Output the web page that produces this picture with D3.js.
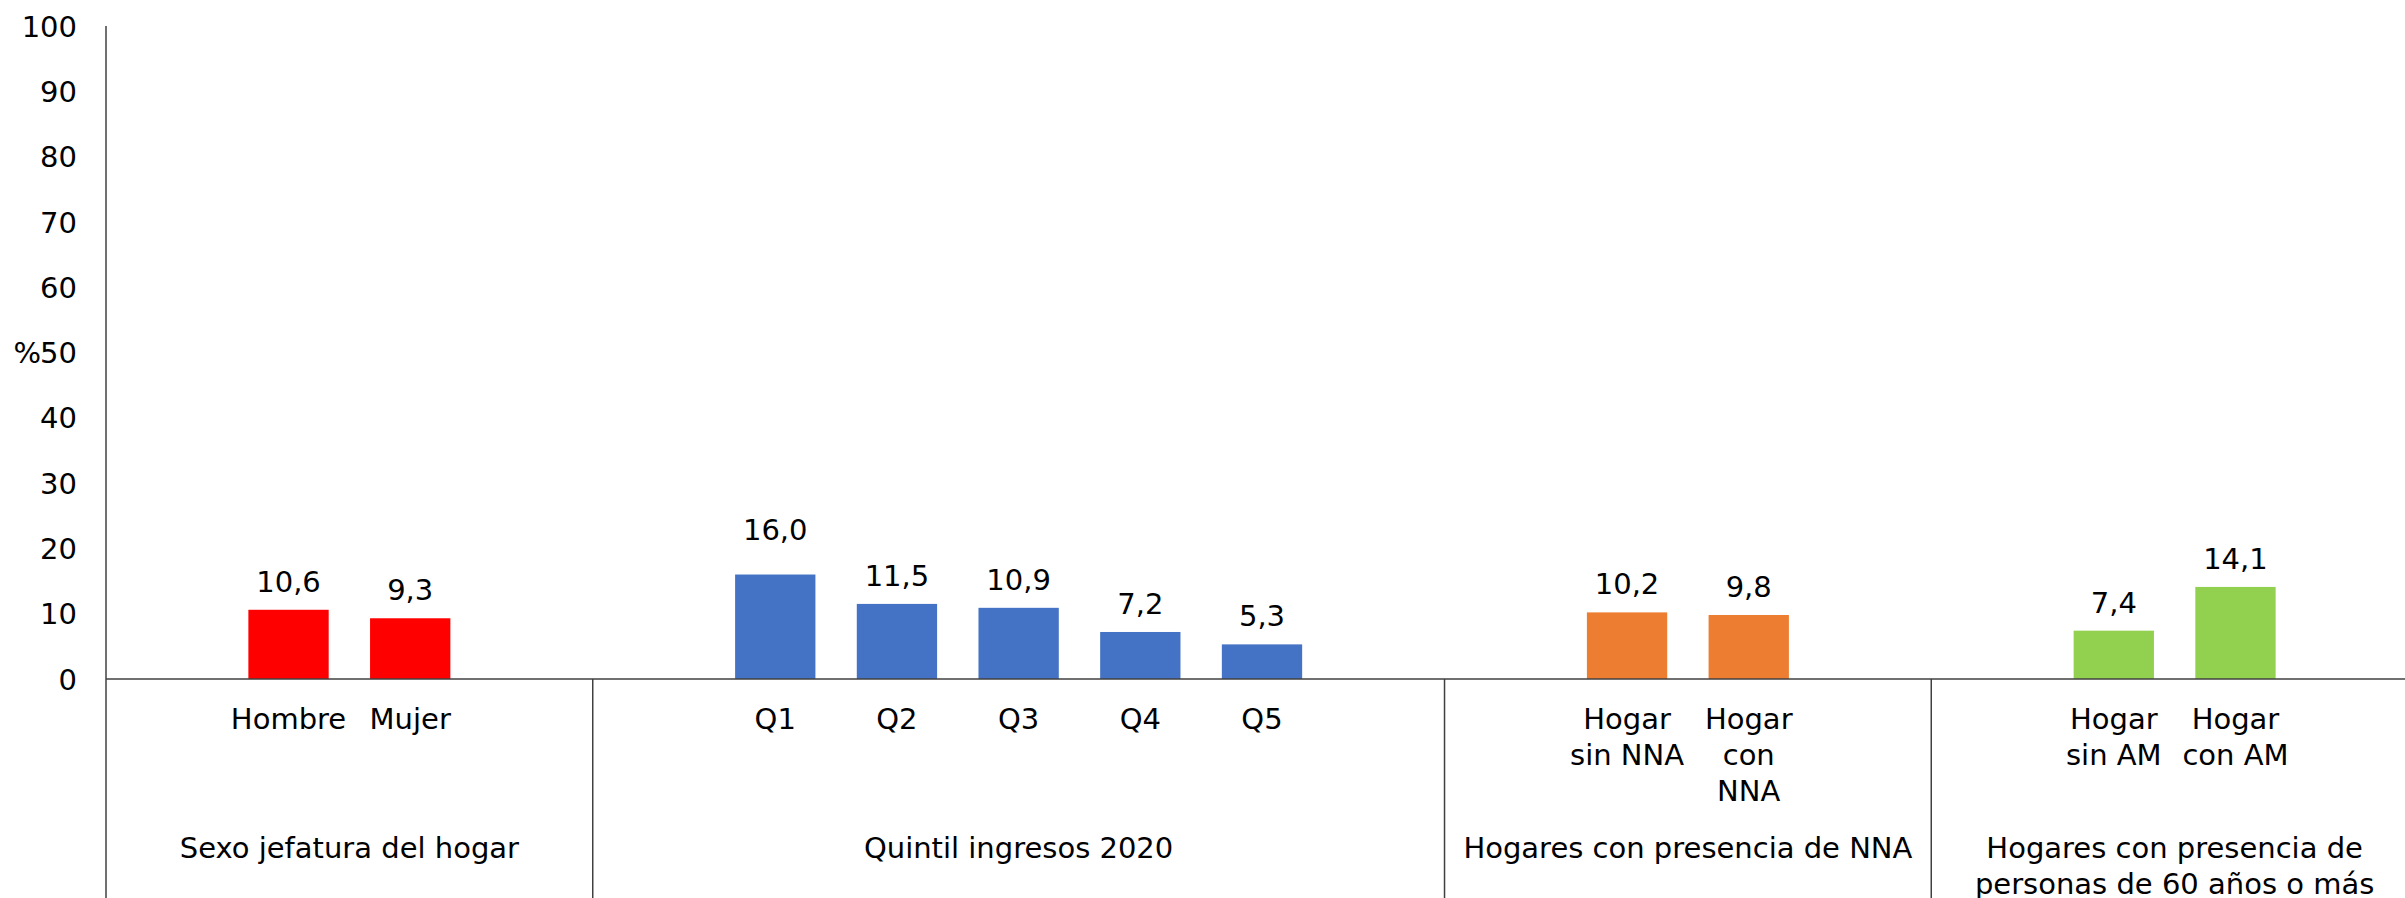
<!DOCTYPE html>
<html>
<head>
<meta charset="utf-8">
<script src="https://cdn.jsdelivr.net/npm/d3@7"></script>
<style>
  body { margin: 0; background: #fff; overflow: hidden; }
  svg text { font-family: "DejaVu Sans", Verdana, sans-serif; fill: #000; }
</style>
</head>
<body>
<div id="graph"></div>
<script>
// data
const groupNames = ["Sexo jefatura del hogar", "Quintil ingresos 2020", "Hogares con presencia de NNA", "Hogares con presencia de\npersonas de 60 años o más"];
const categories = [
  ["Hombre", "Mujer"],
  ["Q1", "Q2", "Q3", "Q4", "Q5"],
  ["Hogar\nsin NNA", "Hogar\ncon\nNNA"],
  ["Hogar\nsin AM", "Hogar\ncon AM"]
];
const values = [
  [10.6, 9.3],
  [16.0, 11.5, 10.9, 7.2, 5.3],
  [10.2, 9.8],
  [7.4, 14.1]
];
const groupColors = ["#ff0000", "#4472c4", "#ed7d31", "#92d050"];
const yTicks = [0, 10, 20, 30, 40, 50, 60, 70, 80, 90, 100];

const width = 2405, height = 898;
const plotLeft = 106, plotRight = 2418, plotTop = 26, zeroY = 679;
const fontSize = "29px";

// each group gets an empty slot before and after, like the original sheet
let slots = [];
let bars = [];
let groups = [];
categories.forEach(function(cats, g) {
  let first = "blank-a" + g;
  slots.push(first);
  cats.forEach(function(c, i) {
    let key = g + "-" + i;
    slots.push(key);
    bars.push({key: key, label: c, value: values[g][i], color: groupColors[g]});
  });
  let last = "blank-b" + g;
  slots.push(last);
  groups.push({name: groupNames[g], first: first, last: last});
});

let svg = d3.select("#graph")
  .append("svg")
  .attr("width", width)
  .attr("height", height);

let x = d3.scaleBand()
  .domain(slots)
  .range([plotLeft, plotRight])
  .paddingInner(0)
  .paddingOuter(0);

let y = d3.scaleLinear()
  .domain([0, 100])
  .range([zeroY, plotTop]);

let slotW = x.bandwidth();
let barW = slotW * 0.66;

// y axis labels
svg.append("g")
  .attr("transform", `translate(${plotLeft}, 0)`)
  .call(d3.axisLeft(y).tickValues(yTicks).tickSize(0).tickPadding(29).tickFormat(d3.format("d")))
  .call(g => g.select(".domain").remove())
  .selectAll("text")
  .style("font-size", fontSize)
  .attr("dy", "0.35em");

svg.append("text")
  .attr("x", 41)
  .attr("y", y(50))
  .attr("dy", "0.35em")
  .style("text-anchor", "end")
  .style("font-size", fontSize)
  .text("%");

// bars
svg.selectAll("rect.bar")
  .data(bars)
  .enter()
  .append("rect")
  .attr("class", "bar")
  .attr("x", function(d) { return x(d.key) + (slotW - barW) / 2; })
  .attr("y", function(d) { return y(d.value); })
  .attr("width", barW)
  .attr("height", function(d) { return y(0) - y(d.value); })
  .attr("fill", function(d) { return d.color; });

// value labels (the Q1 one was dragged up a bit in the original)
svg.selectAll("text.val")
  .data(bars)
  .enter()
  .append("text")
  .attr("class", "val")
  .attr("x", function(d) { return x(d.key) + slotW / 2; })
  .attr("y", function(d) { return y(d.value) - (d.key === "1-0" ? 35 : 18); })
  .style("text-anchor", "middle")
  .style("font-size", fontSize)
  .text(function(d) { return d3.format(".1f")(d.value).replace(".", ","); });

// axis lines
let lineColor = "#404040";
svg.append("line")
  .attr("x1", plotLeft).attr("x2", plotLeft)
  .attr("y1", plotTop).attr("y2", height)
  .attr("stroke", lineColor).attr("stroke-width", 1.5);

svg.append("line")
  .attr("x1", plotLeft).attr("x2", width)
  .attr("y1", y(0)).attr("y2", y(0))
  .attr("stroke", lineColor).attr("stroke-width", 1.5);

// group dividers
svg.selectAll("line.div")
  .data(groups.slice(0, -1))
  .enter()
  .append("line")
  .attr("class", "div")
  .attr("x1", function(d) { return x(d.last) + slotW; })
  .attr("x2", function(d) { return x(d.last) + slotW; })
  .attr("y1", y(0))
  .attr("y2", height)
  .attr("stroke", lineColor)
  .attr("stroke-width", 1.5);

// category labels
let catLabels = svg.selectAll("text.cat")
  .data(bars)
  .enter()
  .append("text")
  .attr("class", "cat")
  .style("text-anchor", "middle")
  .style("font-size", fontSize);

catLabels.each(function(d) {
  let t = d3.select(this);
  d.label.split("\n").forEach(function(line, i) {
    t.append("tspan")
      .attr("x", x(d.key) + slotW / 2)
      .attr("y", 729 + i * 36)
      .text(line);
  });
});

// group labels
let groupLabels = svg.selectAll("text.grp")
  .data(groups)
  .enter()
  .append("text")
  .attr("class", "grp")
  .style("text-anchor", "middle")
  .style("font-size", fontSize);

groupLabels.each(function(d) {
  let t = d3.select(this);
  let cx = (x(d.first) + x(d.last) + slotW) / 2;
  d.name.split("\n").forEach(function(line, i) {
    t.append("tspan")
      .attr("x", cx)
      .attr("y", 858 + i * 36)
      .text(line);
  });
});
</script>
</body>
</html>
